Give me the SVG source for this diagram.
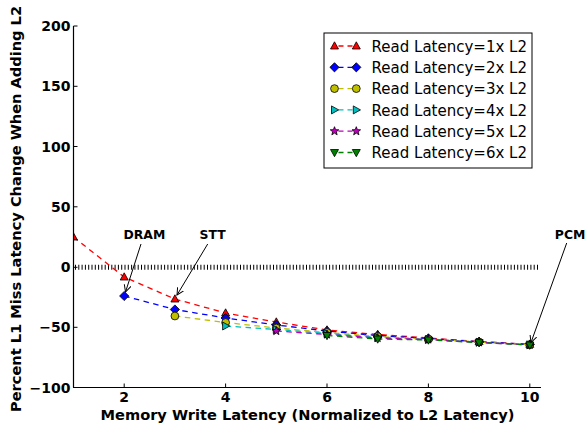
<svg xmlns="http://www.w3.org/2000/svg" xmlns:xlink="http://www.w3.org/1999/xlink" width="585" height="427" viewBox="0 0 585 427">
<style>
text{font-family:"DejaVu Sans","Liberation Sans",sans-serif;fill:#000}
.tk{font-size:14px;font-weight:bold}
.lab{font-size:14.6px;font-weight:bold}
.ann{font-size:12.4px;font-weight:bold}
.leg{font-size:15px}
.ser{fill:none;stroke-width:1.3;stroke-dasharray:5.5 4.5}
.mk{stroke:#000;stroke-width:0.8}
.r{stroke:#ff0000}.b{stroke:#0000ff}.y{stroke:#bfbf00}.c{stroke:#00bfbf}.m{stroke:#bf00bf}.g{stroke:#008000}
.fr{fill:#ff0000}.fb{fill:#0000ff}.fy{fill:#bfbf00}.fc{fill:#00bfbf}.fm{fill:#bf00bf}.fg{fill:#008000}
.arr{stroke:#000;stroke-width:1;fill:none;marker-end:url(#ah)}
</style>
<defs>
<clipPath id="ax"><rect x="73.5" y="20" width="470" height="368"/></clipPath>
<path id="tu" class="mk" d="M0,-4.2 L4,3 L-4,3 Z"/>
<path id="di" class="mk" d="M0,-4.6 L4.6,0 L0,4.6 L-4.6,0 Z"/>
<circle id="ci" class="mk" r="3.9"/>
<path id="tr" class="mk" d="M4.2,0 L-3,-4 L-3,4 Z"/>
<path id="st" class="mk" d="M0,-4.5 L1.12,-1.54 L4.28,-1.39 L1.81,0.59 L2.65,3.64 L0,1.9 L-2.65,3.64 L-1.81,0.59 L-4.28,-1.39 L-1.12,-1.54 Z"/>
<path id="td" class="mk" d="M0,4.2 L4,-3 L-4,-3 Z"/>
<marker id="ah" markerWidth="10" markerHeight="10" refX="7" refY="4" orient="auto" markerUnits="userSpaceOnUse" viewBox="0 0 10 8">
<path d="M0,0.5 L7,4 L0,7.5" fill="none" stroke="#000" stroke-width="1"/>
</marker>
</defs>
<rect width="585" height="427" fill="#fff"/>

<g id="zero-line">
<line x1="75" y1="267.3" x2="539" y2="267.3" stroke="#000" stroke-width="5" stroke-dasharray="1 2.3"/>
</g>

<g id="series" clip-path="url(#ax)">
<g id="s1">
<polyline class="ser r" points="73.5,237 124.2,277 174.9,299 225.6,313 276.3,322 327,330 377.7,334.5 428.4,338 479.1,341.5 529.8,344.3"/>
<use xlink:href="#tu" class="fr" x="73.5" y="237"/><use xlink:href="#tu" class="fr" x="124.2" y="277"/><use xlink:href="#tu" class="fr" x="174.9" y="299"/><use xlink:href="#tu" class="fr" x="225.6" y="313"/><use xlink:href="#tu" class="fr" x="276.3" y="322"/><use xlink:href="#tu" class="fr" x="327" y="330"/><use xlink:href="#tu" class="fr" x="377.7" y="334.5"/><use xlink:href="#tu" class="fr" x="428.4" y="338"/><use xlink:href="#tu" class="fr" x="479.1" y="341.5"/><use xlink:href="#tu" class="fr" x="529.8" y="344.3"/>
</g>
<g id="s2">
<polyline class="ser b" points="124.2,296 174.9,309.5 225.6,318 276.3,325 327,331 377.7,335.5 428.4,338.5 479.1,341.8 529.8,344.5"/>
<use xlink:href="#di" class="fb" x="124.2" y="296"/><use xlink:href="#di" class="fb" x="174.9" y="309.5"/><use xlink:href="#di" class="fb" x="225.6" y="318"/><use xlink:href="#di" class="fb" x="276.3" y="325"/><use xlink:href="#di" class="fb" x="327" y="331"/><use xlink:href="#di" class="fb" x="377.7" y="335.5"/><use xlink:href="#di" class="fb" x="428.4" y="338.5"/><use xlink:href="#di" class="fb" x="479.1" y="341.8"/><use xlink:href="#di" class="fb" x="529.8" y="344.5"/>
</g>
<g id="s3">
<polyline class="ser y" points="174.9,316 225.6,322.5 276.3,328 327,332.5 377.7,336.5 428.4,339 479.1,342 529.8,344.7"/>
<use xlink:href="#ci" class="fy" x="174.9" y="316"/><use xlink:href="#ci" class="fy" x="225.6" y="322.5"/><use xlink:href="#ci" class="fy" x="276.3" y="328"/><use xlink:href="#ci" class="fy" x="327" y="332.5"/><use xlink:href="#ci" class="fy" x="377.7" y="336.5"/><use xlink:href="#ci" class="fy" x="428.4" y="339"/><use xlink:href="#ci" class="fy" x="479.1" y="342"/><use xlink:href="#ci" class="fy" x="529.8" y="344.7"/>
</g>
<g id="s4">
<polyline class="ser c" points="225.6,326 276.3,329.5 327,333.5 377.7,337.5 428.4,339.5 479.1,342.2 529.8,344.8"/>
<use xlink:href="#tr" class="fc" x="225.6" y="326"/><use xlink:href="#tr" class="fc" x="276.3" y="329.5"/><use xlink:href="#tr" class="fc" x="327" y="333.5"/><use xlink:href="#tr" class="fc" x="377.7" y="337.5"/><use xlink:href="#tr" class="fc" x="428.4" y="339.5"/><use xlink:href="#tr" class="fc" x="479.1" y="342.2"/><use xlink:href="#tr" class="fc" x="529.8" y="344.8"/>
</g>
<g id="s5">
<polyline class="ser m" points="276.3,331 327,334.5 377.7,338 428.4,339.5 479.1,342.4 529.8,344.9"/>
<use xlink:href="#st" class="fm" x="276.3" y="331"/><use xlink:href="#st" class="fm" x="327" y="334.5"/><use xlink:href="#st" class="fm" x="377.7" y="338"/><use xlink:href="#st" class="fm" x="428.4" y="339.5"/><use xlink:href="#st" class="fm" x="479.1" y="342.4"/><use xlink:href="#st" class="fm" x="529.8" y="344.9"/>
</g>
<g id="s6">
<polyline class="ser g" points="327,335.5 377.7,339 428.4,340 479.1,342.6 529.8,345"/>
<use xlink:href="#td" class="fg" x="327" y="335.5"/><use xlink:href="#td" class="fg" x="377.7" y="339"/><use xlink:href="#td" class="fg" x="428.4" y="340"/><use xlink:href="#td" class="fg" x="479.1" y="342.6"/><use xlink:href="#td" class="fg" x="529.8" y="345"/>
</g>
</g>

<g id="axes" stroke="#000" stroke-width="1.2" fill="none">
<line x1="73.5" y1="26" x2="73.5" y2="387.5"/>
<line x1="73" y1="387.5" x2="541" y2="387.5"/>
<path d="M73.5,26h4M73.5,86.3h4M73.5,146.5h4M73.5,206.8h4M73.5,267.3h4M73.5,327.3h4M124.2,387.5v-4M225.6,387.5v-4M327,387.5v-4M428.4,387.5v-4M529.8,387.5v-4" stroke-width="1"/>
</g>
<g id="tick-labels" class="tk">
<text x="70.5" y="31" text-anchor="end">200</text>
<text x="70.5" y="91.3" text-anchor="end">150</text>
<text x="70.5" y="151.5" text-anchor="end">100</text>
<text x="70.5" y="211.8" text-anchor="end">50</text>
<text x="70.5" y="272.3" text-anchor="end">0</text>
<text x="70.5" y="332.3" text-anchor="end">−50</text>
<text x="70.5" y="392.5" text-anchor="end">−100</text>
<text x="124.2" y="402.3" text-anchor="middle">2</text>
<text x="225.6" y="402.3" text-anchor="middle">4</text>
<text x="327" y="402.3" text-anchor="middle">6</text>
<text x="428.4" y="402.3" text-anchor="middle">8</text>
<text x="529.8" y="402.3" text-anchor="middle">10</text>
</g>
<g id="axis-labels" class="lab">
<text x="100.5" y="419.5">Memory Write Latency (Normalized to L2 Latency)</text>
<text transform="translate(21,209) rotate(-90)" text-anchor="middle">Percent L1 Miss Latency Change When Adding L2</text>
</g>

<g id="annotations">
<g id="dram"><text class="ann" x="123.5" y="238.5">DRAM</text><line class="arr" x1="141" y1="244" x2="125.5" y2="292"/></g>
<g id="stt"><text class="ann" x="199.5" y="238.5">STT</text><line class="arr" x1="207.7" y1="244" x2="177" y2="295"/></g>
<g id="pcm"><text class="ann" x="554.8" y="238.5">PCM</text><line class="arr" x1="566.7" y1="243" x2="531" y2="342.5"/></g>
</g>

<g id="legend">
<rect x="324" y="33" width="208" height="135" fill="#fff" stroke="#000" stroke-width="1"/>
<g class="leg">
<line class="ser r" x1="338.5" y1="46" x2="352.5" y2="46" style="stroke-dasharray:5 4"/>
<use xlink:href="#tu" class="fr" x="334.5" y="46"/><use xlink:href="#tu" class="fr" x="356.3" y="46"/>
<text x="371.6" y="51.7">Read Latency=1x L2</text>
<line class="ser b" x1="338.5" y1="67.3" x2="352.5" y2="67.3" style="stroke-dasharray:5 4"/>
<use xlink:href="#di" class="fb" x="334.5" y="67.3"/><use xlink:href="#di" class="fb" x="356.3" y="67.3"/>
<text x="371.6" y="73">Read Latency=2x L2</text>
<line class="ser y" x1="338.5" y1="88.6" x2="352.5" y2="88.6" style="stroke-dasharray:5 4"/>
<use xlink:href="#ci" class="fy" x="334.5" y="88.6"/><use xlink:href="#ci" class="fy" x="356.3" y="88.6"/>
<text x="371.6" y="94.3">Read Latency=3x L2</text>
<line class="ser c" x1="338.5" y1="109.9" x2="352.5" y2="109.9" style="stroke-dasharray:5 4"/>
<use xlink:href="#tr" class="fc" x="334.5" y="109.9"/><use xlink:href="#tr" class="fc" x="356.3" y="109.9"/>
<text x="371.6" y="115.6">Read Latency=4x L2</text>
<line class="ser m" x1="338.5" y1="131.2" x2="352.5" y2="131.2" style="stroke-dasharray:5 4"/>
<use xlink:href="#st" class="fm" x="334.5" y="131.2"/><use xlink:href="#st" class="fm" x="356.3" y="131.2"/>
<text x="371.6" y="136.9">Read Latency=5x L2</text>
<line class="ser g" x1="338.5" y1="152.5" x2="352.5" y2="152.5" style="stroke-dasharray:5 4"/>
<use xlink:href="#td" class="fg" x="334.5" y="152.5"/><use xlink:href="#td" class="fg" x="356.3" y="152.5"/>
<text x="371.6" y="158.2">Read Latency=6x L2</text>
</g>
</g>
</svg>
